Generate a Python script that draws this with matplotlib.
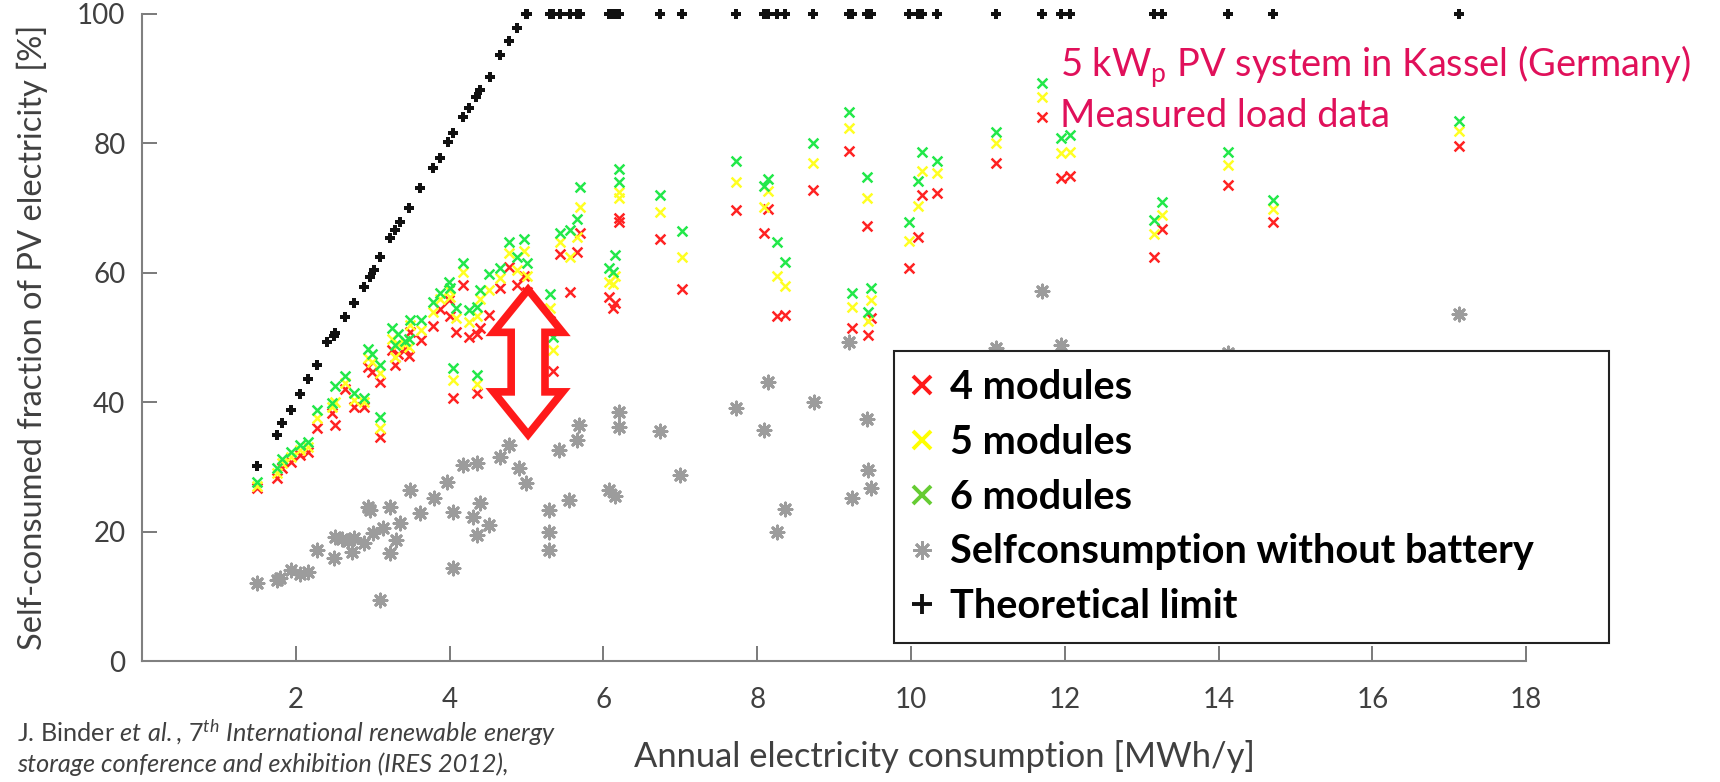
import matplotlib
matplotlib.use("Agg")
import matplotlib.pyplot as plt
from matplotlib.lines import Line2D
from matplotlib.patches import Polygon

plt.rcParams['font.family'] = ['Lato', 'DejaVu Sans']
plt.rcParams['mathtext.fontset'] = 'custom'
plt.rcParams['mathtext.rm'] = 'Lato'
plt.rcParams['mathtext.it'] = 'Lato:italic'
plt.rcParams['mathtext.bf'] = 'Lato:bold'

# households: annual consumption [MWh/y] and self-consumed fraction [%] with battery
consumption = [1.50, 1.75, 1.82, 1.94, 2.05, 2.16, 2.27, 2.47, 2.51, 2.64,
               2.75, 2.88, 2.94, 2.99, 3.10, 3.10, 3.25, 3.29, 3.33, 3.42,
               3.47, 3.49, 3.63, 3.79, 3.88, 3.99, 4.00, 4.05, 4.08, 4.18,
               4.25, 4.36, 4.36, 4.40, 4.51, 4.66, 4.77, 4.88, 4.97, 5.01,
               5.31, 5.35, 5.44, 5.56, 5.65, 5.69, 6.07, 6.12, 6.15, 6.20,
               6.20, 6.74, 7.02, 7.73, 8.09, 8.14, 8.26, 8.36, 8.73, 9.20,
               9.23, 9.43, 9.44, 9.48, 9.97, 10.09, 10.14, 10.34, 11.10, 11.70,
               11.95, 12.07, 13.16, 13.27, 14.12, 14.71, 17.13]
mod4 = [26.7, 28.3, 29.8, 30.8, 31.8, 32.3, 36.0, 38.3, 36.5, 42.0,
        39.3, 39.3, 45.4, 44.6, 34.6, 43.1, 48.0, 45.7, 47.5, 48.2,
        47.2, 50.9, 49.6, 51.8, 54.4, 55.8, 53.3, 40.6, 50.9, 58.1,
        50.1, 41.5, 50.6, 51.4, 53.5, 57.7, 60.9, 58.1, 59.5, 57.0,
        52.5, 44.8, 62.9, 57.1, 63.2, 66.1, 56.3, 54.6, 55.3, 68.5,
        67.9, 65.2, 57.5, 69.7, 66.1, 69.9, 53.3, 53.5, 72.8, 78.9,
        51.5, 67.3, 50.4, 53.0, 60.8, 65.5, 72.0, 72.4, 77.0, 84.1,
        74.7, 75.0, 62.5, 66.8, 73.6, 67.9, 79.6]
mod5 = [27.0, 29.0, 30.6, 31.6, 32.6, 33.1, 37.5, 39.2, 40.0, 42.9,
        40.3, 40.0, 46.8, 46.2, 36.0, 44.5, 49.8, 47.0, 49.0, 49.0,
        48.5, 52.0, 51.2, 54.0, 55.9, 57.3, 56.3, 43.5, 53.0, 60.2,
        52.4, 42.8, 53.4, 56.0, 57.3, 59.2, 63.0, 60.5, 63.3, 59.5,
        54.5, 48.1, 64.8, 62.5, 65.5, 70.2, 58.6, 58.2, 59.5, 72.5,
        71.5, 69.4, 62.5, 74.1, 70.2, 72.7, 59.5, 58.0, 77.0, 82.4,
        54.7, 71.5, 52.6, 55.8, 64.9, 70.4, 75.7, 75.5, 80.0, 87.1,
        78.5, 78.7, 66.0, 69.0, 76.7, 69.9, 81.9]
mod6 = [27.6, 29.8, 31.3, 32.3, 33.4, 33.9, 38.8, 39.9, 42.5, 44.0,
        41.5, 40.6, 48.2, 47.4, 37.7, 45.7, 51.4, 48.8, 50.6, 49.5,
        49.8, 52.7, 52.7, 55.5, 56.9, 58.6, 57.6, 45.3, 54.6, 61.5,
        54.3, 44.2, 54.7, 57.3, 59.8, 60.7, 64.8, 62.5, 65.2, 61.5,
        56.8, 50.1, 66.1, 66.6, 68.3, 73.3, 60.7, 60.2, 62.7, 76.0,
        74.0, 72.0, 66.5, 77.3, 73.4, 74.5, 64.7, 61.6, 80.1, 84.9,
        56.9, 74.8, 54.0, 57.6, 67.9, 74.2, 78.6, 77.3, 81.8, 89.3,
        80.9, 81.3, 68.2, 70.9, 78.7, 71.3, 83.5]

# self-consumption without battery
nobat_x = [1.50, 1.75, 1.80, 1.94, 2.05, 2.16, 2.27, 2.49, 2.51, 2.60,
           2.68, 2.73, 2.75, 2.88, 2.94, 2.97, 3.00, 3.10, 3.13, 3.23,
           3.23, 3.30, 3.36, 3.49, 3.62, 3.80, 3.97, 4.05, 4.05, 4.18,
           4.31, 4.36, 4.36, 4.40, 4.51, 4.66, 4.77, 4.90, 4.99, 5.29,
           5.29, 5.29, 5.42, 5.55, 5.66, 5.68, 6.07, 6.15, 6.20, 6.20,
           6.74, 7.00, 7.72, 8.09, 8.14, 8.26, 8.36, 8.74, 9.19, 9.23,
           9.43, 9.44, 9.48, 9.97, 10.09, 10.14, 10.34, 11.10, 11.70, 11.95,
           12.07, 13.16, 13.27, 14.12, 14.71, 17.13]
nobat_y = [12.0, 12.5, 12.8, 14.0, 13.5, 13.8, 17.2, 15.9, 19.2, 18.8,
           18.5, 16.9, 19.0, 18.3, 23.8, 23.3, 19.8, 9.4, 20.5, 23.8,
           16.7, 18.7, 21.3, 26.4, 22.9, 25.2, 27.7, 14.4, 23.0, 30.3,
           22.3, 30.6, 19.5, 24.4, 21.0, 31.6, 33.4, 29.8, 27.5, 23.3,
           20.0, 17.1, 32.6, 24.9, 34.2, 36.5, 26.4, 25.5, 38.5, 36.2,
           35.5, 28.7, 39.1, 35.7, 43.1, 20.0, 23.5, 40.0, 49.3, 25.2,
           37.4, 29.5, 26.7, 30.0, 28.0, 35.0, 33.0, 48.4, 57.2, 48.8,
           40.0, 35.0, 38.0, 47.6, 40.0, 53.7]

# theoretical limit
limit_x = [1.50, 1.75, 1.82, 1.94, 2.05, 2.16, 2.27, 2.40, 2.49, 2.51,
           2.64, 2.75, 2.88, 2.97, 3.01, 3.10, 3.23, 3.29, 3.36, 3.47,
           3.62, 3.79, 3.88, 3.98, 4.05, 4.18, 4.25, 4.34, 4.40, 4.52,
           4.66, 4.77, 4.88, 4.99, 5.01, 5.31, 5.35, 5.44, 5.56, 5.65,
           5.69, 6.07, 6.12, 6.15, 6.20, 6.74, 7.02, 7.73, 8.09, 8.14,
           8.26, 8.36, 8.73, 9.20, 9.23, 9.43, 9.48, 9.97, 10.09, 10.14,
           10.34, 11.10, 11.70, 11.95, 12.07, 13.16, 13.27, 14.12, 14.71, 17.13]
limit_y = [30.1, 35.0, 36.8, 38.8, 41.3, 43.6, 45.7, 49.3, 50.2, 50.7,
           53.2, 55.3, 57.8, 59.4, 60.4, 62.4, 65.4, 66.6, 67.9, 70.0,
           73.1, 76.2, 77.7, 80.2, 81.6, 84.1, 85.4, 87.2, 88.2, 90.3,
           93.7, 95.8, 97.8, 100, 100, 100, 100, 100, 100, 100,
           100, 100, 100, 100, 100, 100, 100, 100, 100, 100,
           100, 100, 100, 100, 100, 100, 100, 100, 100, 100,
           100, 100, 100, 100, 100, 100, 100, 100, 100, 100]

x_ticks = [2, 4, 6, 8, 10, 12, 14, 16, 18]
y_ticks = [0, 20, 40, 60, 80, 100]

fig = plt.figure(figsize=(17.2, 7.82), dpi=100)
ax = fig.add_axes([0.0826, 0.1547, 0.8047, 0.8274])

ax.scatter(limit_x, limit_y, marker='P', s=60, color='#111111', lw=0, zorder=3, clip_on=False)
ax.scatter(nobat_x, nobat_y, marker=(8, 2, 0), s=85, color='#9c9c9c', lw=2.2, zorder=3)
ax.scatter(consumption, mod4, marker='x', s=50, color='#ff2222', lw=1.8, zorder=4)
ax.scatter(consumption, mod5, marker='x', s=50, color='#ffff22', lw=1.8, zorder=4)
ax.scatter(consumption, mod6, marker='x', s=50, color='#22e84a', lw=1.8, zorder=4)

# hollow red double arrow
cx, top, bot = 5.02, 57.4, 35.0
hw, sw, hl = 0.45, 0.22, 6.6
arrow = Polygon([(cx, top), (cx + hw, top - hl), (cx + sw, top - hl), (cx + sw, bot + hl),
                 (cx + hw, bot + hl), (cx, bot), (cx - hw, bot + hl), (cx - sw, bot + hl),
                 (cx - sw, top - hl), (cx - hw, top - hl)], closed=True,
                facecolor='white', edgecolor='#ff1a1a', lw=5.5, joinstyle='miter', zorder=5)
ax.add_patch(arrow)

ax.set_xlim(0, 18)
ax.set_ylim(0, 100)
ax.set_xticks(x_ticks)
ax.set_yticks(y_ticks)
for s in ['top', 'right']:
    ax.spines[s].set_visible(False)
for s in ['left', 'bottom']:
    ax.spines[s].set_color('#808080')
    ax.spines[s].set_linewidth(1.5)
ax.tick_params(axis='both', direction='in', length=11, width=1.3, color='#707070',
               labelsize=20, labelcolor='#404040')
ax.tick_params(axis='x', pad=19)
ax.tick_params(axis='y', pad=12)

fig.text(0.019, 0.569, "Self-consumed fraction of PV electricity [%]", rotation=90,
         fontsize=23.5, color='#404040', ha='center', va='center')
fig.text(0.549, 0.012, "Annual electricity consumption [MWh/y]", fontsize=24.8,
         color='#404040', ha='center', va='bottom')

fig.text(0.616, 0.901, r"5 kW$_\mathrm{p}$ PV system in Kassel (Germany)", fontsize=27.4,
         color='#e0105a', ha='left', va='baseline')
fig.text(0.616, 0.838, "Measured load data", fontsize=27.4, color='#e0105a',
         ha='left', va='baseline')

# reference line, second line fully italic
fig.text(0.010, 0.0515, r"J. Binder $\mathit{et\ al.}$, $\mathit{7}^{\mathit{th}}$$\mathit{\ International\ renewable\ energy}$",
         fontsize=18.2, color='#404040', ha='left', va='baseline')
fig.text(0.010, 0.0125, "storage conference and exhibition (IRES 2012),", style='italic',
         fontsize=18.2, color='#404040', ha='left', va='baseline')

handles = [
    Line2D([], [], ls='none', marker='x', ms=13, mew=2.8, color='#ff1a1a'),
    Line2D([], [], ls='none', marker='x', ms=13, mew=2.8, color='#ffff00'),
    Line2D([], [], ls='none', marker='x', ms=13, mew=2.8, color='#66cc33'),
    Line2D([], [], ls='none', marker=(8, 2, 0), ms=13, mew=2, color='#9c9c9c'),
    Line2D([], [], ls='none', marker='+', ms=15, mew=2.8, color='#111111'),
]
labels = ["4 modules", "5 modules", "6 modules", "Selfconsumption without battery", "Theoretical limit"]
leg = ax.legend(handles, labels, loc='upper left', bbox_to_anchor=(0.52, 0.551, 0.4155, 0.0),
                bbox_transform=fig.transFigure, mode='expand', fancybox=False, framealpha=1,
                edgecolor='#222222', prop={'weight': 'bold', 'size': 28.5}, labelspacing=0.45,
                borderpad=0.45, handlelength=0.5, handletextpad=0.46, borderaxespad=0)
leg.get_frame().set_linewidth(1.5)
leg.set_zorder(10)

plt.savefig('out.png', dpi=100)
